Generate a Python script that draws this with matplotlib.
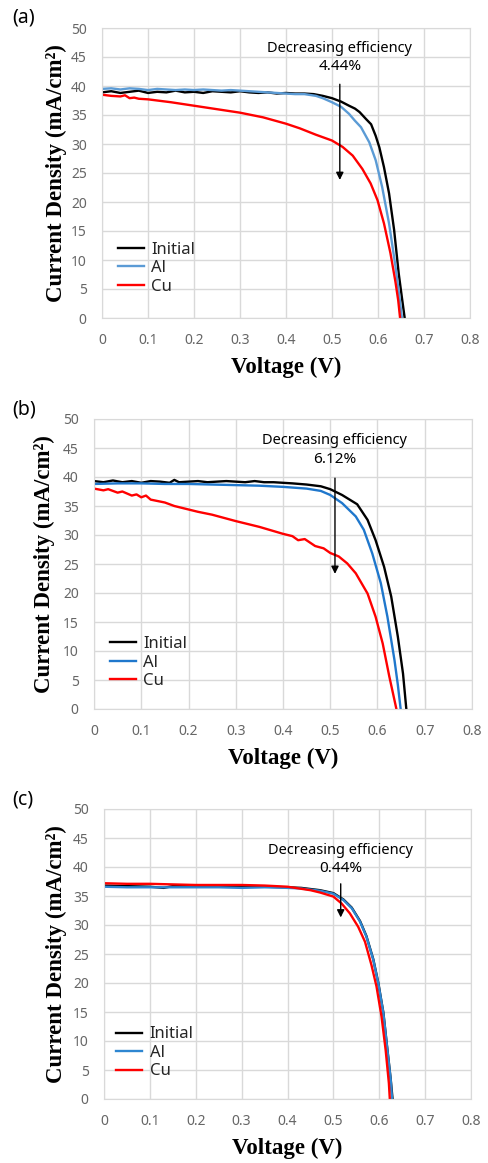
import matplotlib
matplotlib.use("Agg")
import matplotlib.pyplot as plt
import numpy as np

# ---- panel (a) ----
a_v_initial = [0, 0.02, 0.04, 0.06, 0.08, 0.1, 0.12, 0.14, 0.16, 0.18, 0.2, 0.22, 0.24, 0.26,
               0.28, 0.3, 0.32, 0.34, 0.36, 0.38, 0.4, 0.42, 0.44, 0.46, 0.48, 0.5, 0.52, 0.537,
               0.55, 0.56, 0.574, 0.585, 0.595, 0.603, 0.613, 0.624, 0.635, 0.645, 0.652, 0.658]
a_j_initial = [38.9, 39.1, 38.8, 39.0, 39.2, 38.8, 39.0, 38.9, 39.2, 38.9, 39.0, 38.8, 39.1, 39.0,
               38.9, 39.1, 38.9, 38.8, 38.9, 38.7, 38.8, 38.7, 38.7, 38.6, 38.3, 37.9, 37.3, 36.6,
               36.1, 35.5, 34.3, 33.4, 31.4, 29.4, 26.0, 21.5, 15.2, 7.7, 3.5, 0.0]
a_v_al = [0, 0.02, 0.04, 0.06, 0.08, 0.1, 0.12, 0.14, 0.16, 0.18, 0.2, 0.22, 0.24, 0.26, 0.28,
          0.3, 0.32, 0.34, 0.36, 0.38, 0.4, 0.42, 0.44, 0.465, 0.48, 0.5, 0.52, 0.537, 0.55,
          0.563, 0.581, 0.595, 0.609, 0.624, 0.638, 0.646, 0.652]
a_j_al = [39.5, 39.6, 39.4, 39.6, 39.5, 39.3, 39.5, 39.4, 39.3, 39.4, 39.3, 39.4, 39.3, 39.2, 39.3,
          39.2, 39.1, 39.0, 38.9, 38.8, 38.7, 38.6, 38.6, 38.3, 37.9, 37.2, 36.4, 35.2, 34.0,
          32.9, 30.3, 27.2, 22.6, 16.3, 8.9, 4.0, 0.0]
a_v_cu = [0, 0.02, 0.04, 0.05, 0.06, 0.07, 0.08, 0.1, 0.12, 0.15, 0.2, 0.25, 0.3, 0.35, 0.4,
          0.43, 0.465, 0.5, 0.523, 0.545, 0.566, 0.584, 0.599, 0.613, 0.627, 0.638, 0.644, 0.648]
a_j_cu = [38.5, 38.3, 38.2, 38.4, 37.9, 38.0, 37.8, 37.7, 37.5, 37.2, 36.6, 36.0, 35.4, 34.6, 33.5,
          32.7, 31.6, 30.6, 29.5, 28.0, 25.7, 23.2, 20.3, 16.3, 11.2, 6.2, 3.0, 0.0]

# ---- panel (b) ----
b_v_initial = [0, 0.02, 0.04, 0.06, 0.08, 0.1, 0.12, 0.14, 0.16, 0.17, 0.18, 0.2, 0.22, 0.24,
               0.26, 0.28, 0.3, 0.32, 0.34, 0.36, 0.38, 0.4, 0.42, 0.45, 0.48, 0.5, 0.525, 0.557,
               0.579, 0.596, 0.614, 0.629, 0.643, 0.654, 0.661]
b_j_initial = [39.3, 39.1, 39.4, 39.1, 39.3, 39.0, 39.3, 39.2, 39.0, 39.5, 39.1, 39.2, 39.3, 39.1,
               39.2, 39.3, 39.2, 39.1, 39.3, 39.1, 39.1, 39.0, 38.9, 38.7, 38.4, 37.9, 36.9, 35.3,
               32.6, 29.1, 24.5, 19.4, 12.5, 6.1, 0.0]
b_v_al = [0, 0.05, 0.1, 0.15, 0.2, 0.25, 0.3, 0.35, 0.4, 0.45, 0.48, 0.5, 0.525, 0.554, 0.571,
          0.589, 0.607, 0.621, 0.636, 0.643, 0.649]
b_j_al = [38.8, 38.9, 38.9, 38.8, 38.8, 38.7, 38.6, 38.5, 38.3, 38.0, 37.6, 36.9, 35.5, 33.2, 30.9,
          26.8, 21.7, 15.9, 8.4, 4.2, 0.0]
b_v_cu = [0, 0.02, 0.03, 0.05, 0.06, 0.08, 0.09, 0.1, 0.11, 0.12, 0.15, 0.17, 0.2, 0.22, 0.25,
          0.3, 0.35, 0.4, 0.42, 0.432, 0.446, 0.468, 0.486, 0.5, 0.518, 0.536, 0.554, 0.579,
          0.596, 0.611, 0.625, 0.64]
b_j_cu = [38.0, 37.7, 37.9, 37.3, 37.5, 36.8, 37.0, 36.5, 36.8, 36.1, 35.6, 35.0, 34.4, 34.0, 33.5,
          32.4, 31.4, 30.2, 29.8, 29.1, 29.3, 28.1, 27.7, 26.9, 26.3, 25.1, 23.4, 19.9,
          15.9, 11.3, 5.6, 0.0]

# ---- panel (c) ----
c_v_initial = [0, 0.05, 0.1, 0.13, 0.15, 0.2, 0.25, 0.3, 0.35, 0.4, 0.43, 0.471, 0.5, 0.522, 0.54,
               0.558, 0.572, 0.587, 0.598, 0.609, 0.617, 0.625, 0.629]
c_j_initial = [36.8, 36.7, 36.6, 36.4, 36.7, 36.7, 36.7, 36.6, 36.6, 36.5, 36.4, 36.0, 35.5, 34.4,
               33.0, 30.7, 28.1, 24.1, 20.0, 14.9, 9.1, 3.4, 0.0]
c_v_al = [0, 0.05, 0.1, 0.15, 0.2, 0.25, 0.3, 0.35, 0.4, 0.43, 0.471, 0.5, 0.522, 0.54, 0.558,
          0.572, 0.587, 0.598, 0.609, 0.617, 0.625, 0.628]
c_j_al = [36.6, 36.5, 36.5, 36.5, 36.5, 36.5, 36.4, 36.5, 36.4, 36.3, 35.9, 35.4, 34.3, 32.9, 30.6,
          28.0, 24.0, 19.9, 14.8, 9.0, 3.3, 0.0]
c_v_cu = [0, 0.05, 0.1, 0.15, 0.2, 0.25, 0.3, 0.35, 0.4, 0.45, 0.471, 0.5, 0.518, 0.536, 0.554,
          0.569, 0.583, 0.594, 0.605, 0.614, 0.621, 0.623]
c_j_cu = [37.2, 37.1, 37.1, 37.0, 36.9, 36.9, 36.9, 36.8, 36.6, 36.0, 35.6, 34.9, 33.7, 32.0, 29.7,
          27.1, 23.1, 19.4, 14.2, 8.4, 2.7, 0.0]

panel_labels = ["(a)", "(b)", "(c)"]
series_names = ["Initial", "Al", "Cu"]
efficiency_drop = ["4.44%", "6.12%", "0.44%"]
x_ticks = [0, 0.1, 0.2, 0.3, 0.4, 0.5, 0.6, 0.7, 0.8]
x_tick_labels = ["0", "0.1", "0.2", "0.3", "0.4", "0.5", "0.6", "0.7", "0.8"]
y_ticks = [0, 5, 10, 15, 20, 25, 30, 35, 40, 45, 50]

W, H = 489, 1163
fig = plt.figure(figsize=(W / 100, H / 100), dpi=100)


def px_axes(left, right, top, bottom):
    return fig.add_axes([left / W, 1 - bottom / H, (right - left) / W, (bottom - top) / H])


panels = [
    dict(box=(102, 470, 28, 318), data=[(a_v_initial, a_j_initial), (a_v_al, a_j_al), (a_v_cu, a_j_cu)],
         blue="#5B9BD5", arrow=(0.517, 40.3, 23.8), text_y=(46.5, 43.3), ylab_x=-0.125, leg_x=0.043, leg_y=0.172),
    dict(box=(94, 472, 419, 709), data=[(b_v_initial, b_j_initial), (b_v_al, b_j_al), (b_v_cu, b_j_cu)],
         blue="#1F77CC", arrow=(0.510, 39.8, 23.3), text_y=(46.3, 43.1), ylab_x=-0.132, leg_x=0.042, leg_y=0.160),
    dict(box=(104, 471, 809, 1099), data=[(c_v_initial, c_j_initial), (c_v_al, c_j_al), (c_v_cu, c_j_cu)],
         blue="#2E86D1", arrow=(0.516, 37.1, 31.3), text_y=(42.8, 39.7), ylab_x=-0.131, leg_x=0.034, leg_y=0.159),
]

grid_c = "#D9D9D9"
tick_c = "#666666"

for i, p in enumerate(panels):
    ax = px_axes(*p["box"])
    colors = ["#000000", p["blue"], "#FF0000"]
    for (v, j), name, col in zip(p["data"], series_names, colors):
        ax.plot(v, j, color=col, lw=1.7, label=name)

    ax.set_xlim(0, 0.8)
    ax.set_ylim(0, 50)
    ax.set_xticks(x_ticks)
    ax.set_xticklabels(x_tick_labels)
    ax.set_yticks(y_ticks)
    ax.grid(True, color=grid_c, lw=1)
    ax.set_axisbelow(True)
    for s in ax.spines.values():
        s.set_color(grid_c)
    ax.tick_params(length=0, pad=11, labelsize=10, labelcolor=tick_c)
    for t in ax.get_xticklabels() + ax.get_yticklabels():
        t.set_family("Noto Sans")

    ax.set_xlabel("Voltage (V)", family="Liberation Serif", weight="bold", fontsize=16.5)
    ax.xaxis.set_label_coords(0.5, -0.135)
    ax.set_ylabel("Current Density (mA/cm²)", family="Liberation Serif", weight="bold",
                  fontsize=16.5, va="center")
    ax.yaxis.set_label_coords(p["ylab_x"], 0.5)

    leg = ax.legend(loc="center left", bbox_to_anchor=(p["leg_x"], p["leg_y"]), frameon=False,
                    borderpad=0, borderaxespad=0, handlelength=1.55, handletextpad=0.45,
                    labelspacing=0.15, prop={"family": "Noto Sans", "size": 12})
    for t in leg.get_texts():
        t.set_color("#262626")

    xa, y0, y1 = p["arrow"]
    ax.annotate("", xy=(xa, y1), xytext=(xa, y0),
                arrowprops=dict(arrowstyle="-|>", color="black", lw=1.0, mutation_scale=11,
                                shrinkA=0, shrinkB=0))
    ax.text(xa, p["text_y"][0], "Decreasing efficiency", ha="center", va="center",
            family="Noto Sans", fontsize=10.5, color="black")
    ax.text(xa, p["text_y"][1], efficiency_drop[i], ha="center", va="center",
            family="Noto Sans", fontsize=11, color="black")

    fig.text(12 / W, 1 - (p["box"][2] - 10) / H, panel_labels[i], ha="left", va="center",
             family="Noto Sans", fontsize=14)

fig.savefig("out.png", dpi=100)
